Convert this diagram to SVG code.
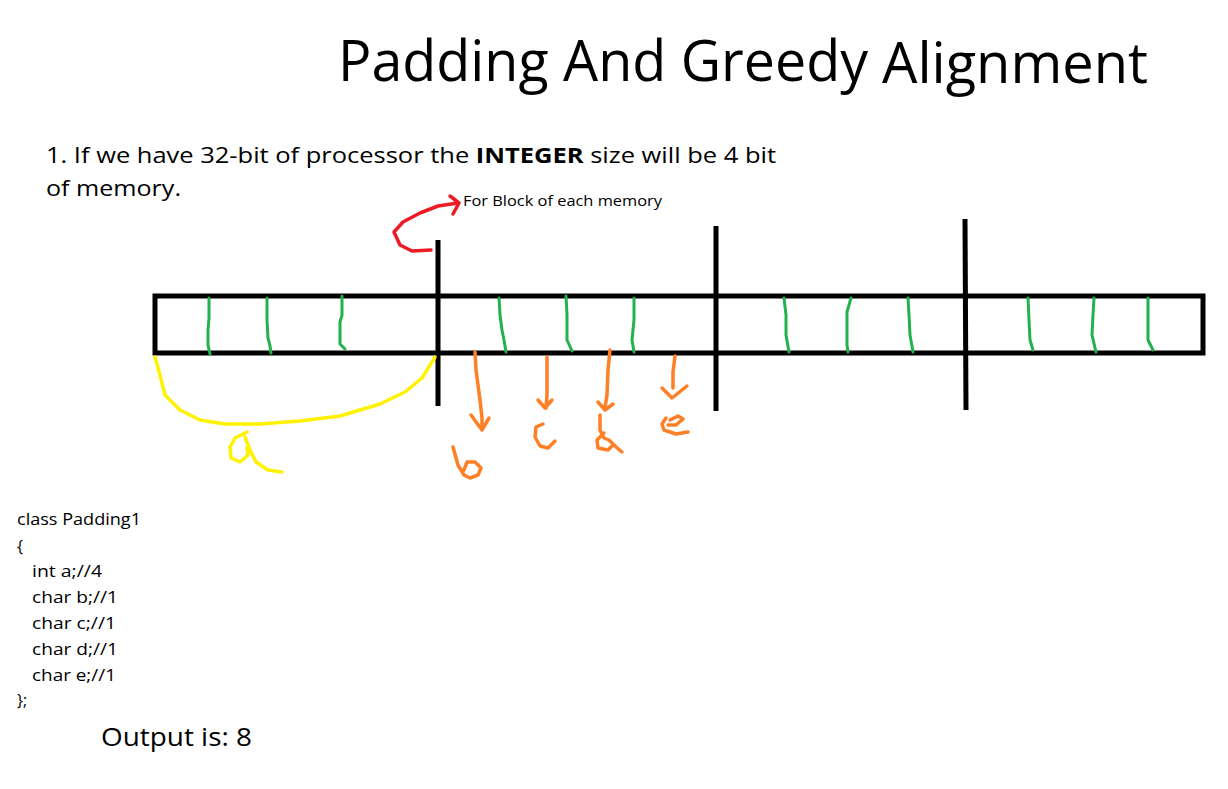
<svg xmlns="http://www.w3.org/2000/svg" width="1228" height="789" viewBox="0 0 1228 789">
<style>
text{font-family:"Open Sans","Noto Sans","Liberation Sans",sans-serif;fill:#000}
.blk{stroke:#000;stroke-width:5;fill:none;stroke-linecap:butt}
.grn{stroke:#22b14c;stroke-width:3;fill:none;stroke-linecap:round;stroke-linejoin:round}
.org{stroke:#ff7f27;stroke-width:3.5;fill:none;stroke-linecap:round;stroke-linejoin:round}
.yel{stroke:#fff200;stroke-width:3.5;fill:none;stroke-linecap:round;stroke-linejoin:round}
.red{stroke:#ed1c24;stroke-width:3.5;fill:none;stroke-linecap:round;stroke-linejoin:round}
.code{font-size:16px}
</style>
<rect width="1228" height="789" fill="#fff"/>
<g id="title">
<text x="338" y="81" font-size="56" textLength="530" lengthAdjust="spacingAndGlyphs">Padding And Greedy</text>
<text x="882" y="83" font-size="56" textLength="266" lengthAdjust="spacingAndGlyphs">Alignment</text>
</g>
<g id="note">
<text x="46" y="163" font-size="22" textLength="730" lengthAdjust="spacingAndGlyphs">1. If we have 32-bit of processor the <tspan font-weight="bold">INTEGER</tspan> size will be 4 bit</text>
<text x="46" y="196" font-size="22" textLength="135" lengthAdjust="spacingAndGlyphs">of memory.</text>
</g>
<g id="memory">
<rect x="155" y="296" width="1048" height="57" class="blk"/>
<line x1="438" y1="240" x2="438" y2="406" class="blk"/>
<line x1="716" y1="226" x2="716" y2="411" class="blk"/>
<line x1="965" y1="219" x2="966" y2="410" class="blk"/>
</g>
<g id="ticks">
<path class="grn" d="M209 298 L209 318 L208 330 L208 345 L210 354"/>
<path class="grn" d="M267 298 L267 320 L268 338 L270 346 L271 353"/>
<path class="grn" d="M342 296 L342 315 L340 322 L340 344 L345 349"/>
<path class="grn" d="M499 298 L500 315 L502 330 L504 340 L506 352"/>
<path class="grn" d="M566 296 L567 315 L567 340 L572 351"/>
<path class="grn" d="M634 298 L634 320 L632 340 L634 352"/>
<path class="grn" d="M784 298 L786 315 L786 335 L789 352"/>
<path class="grn" d="M851 298 L847 312 L847 345 L848 352"/>
<path class="grn" d="M908 298 L909 315 L910 335 L913 352"/>
<path class="grn" d="M1028 298 L1029 320 L1030 340 L1033 350"/>
<path class="grn" d="M1094 298 L1093 315 L1092 335 L1096 352"/>
<path class="grn" d="M1148 298 L1148 318 L1148 340 L1153 350"/>
</g>
<g id="connectors">
<path class="red" d="M431 250 L412 251 L400 245 L394 232 L403 222 L420 213 L438 206 L458 203"/>
<path class="red" d="M450 196 L459 203 L453 214"/>
<path class="yel" d="M155 357 L160 375 L165 395 L180 410 L200 420 L225 424 L260 424 L300 421 L340 416 L380 404 L405 392 L422 378 L435 357"/>
<path class="org" d="M475 352 L476 370 L478 385 L480 400 L482 418 L482 430 M471 415 L482 430 L489 418"/>
<path class="org" d="M547 357 L547 395 L546 408 M538 400 L545 408 L552 400"/>
<path class="org" d="M610 350 L608 370 L607 395 L605 408 M598 402 L605 410 L613 404"/>
<path class="org" d="M675 356 L673 372 L673 388 M662 388 L672 398 L687 386"/>
</g>
<g id="labels">
<text x="463" y="206" font-size="14" textLength="199" lengthAdjust="spacingAndGlyphs">For Block of each memory</text>
<path class="yel" d="M247 432 L235 438 L230 447 L231 458 L240 462 L248 455 L247 448 M245 437 L250 450 L256 462 L268 470 L282 472"/>
<path class="org" d="M453 447 L458 465 L464 475 L470 478 L478 475 L481 468 L475 462 L467 462 L464 470"/>
<path class="org" d="M543 424 L536 427 L535 437 L540 446 L548 448 L555 441"/>
<path class="org" d="M600 415 L600 430 L604 438 L609 440 L616 447 L622 452 M604 433 L597 440 L598 448 L608 450 L613 445"/>
<path class="org" d="M666 418 L662 424 L664 430 L676 434 L688 432 M670 420 L678 416 L683 419 L676 425 L668 425"/>
</g>
<g id="code">
<text class="code" x="17" y="525" textLength="124" lengthAdjust="spacingAndGlyphs">class Padding1</text>
<text class="code" x="17" y="552">{</text>
<text class="code" x="32" y="577" textLength="70" lengthAdjust="spacingAndGlyphs">int a;//4</text>
<text class="code" x="32" y="603" textLength="86" lengthAdjust="spacingAndGlyphs">char b;//1</text>
<text class="code" x="32" y="629" textLength="84" lengthAdjust="spacingAndGlyphs">char c;//1</text>
<text class="code" x="32" y="655" textLength="86" lengthAdjust="spacingAndGlyphs">char d;//1</text>
<text class="code" x="32" y="681" textLength="84" lengthAdjust="spacingAndGlyphs">char e;//1</text>
<text class="code" x="17" y="706">};</text>
</g>
<g id="output">
<text x="101" y="746" font-size="25" textLength="151" lengthAdjust="spacingAndGlyphs">Output is: 8</text>
</g>
</svg>
